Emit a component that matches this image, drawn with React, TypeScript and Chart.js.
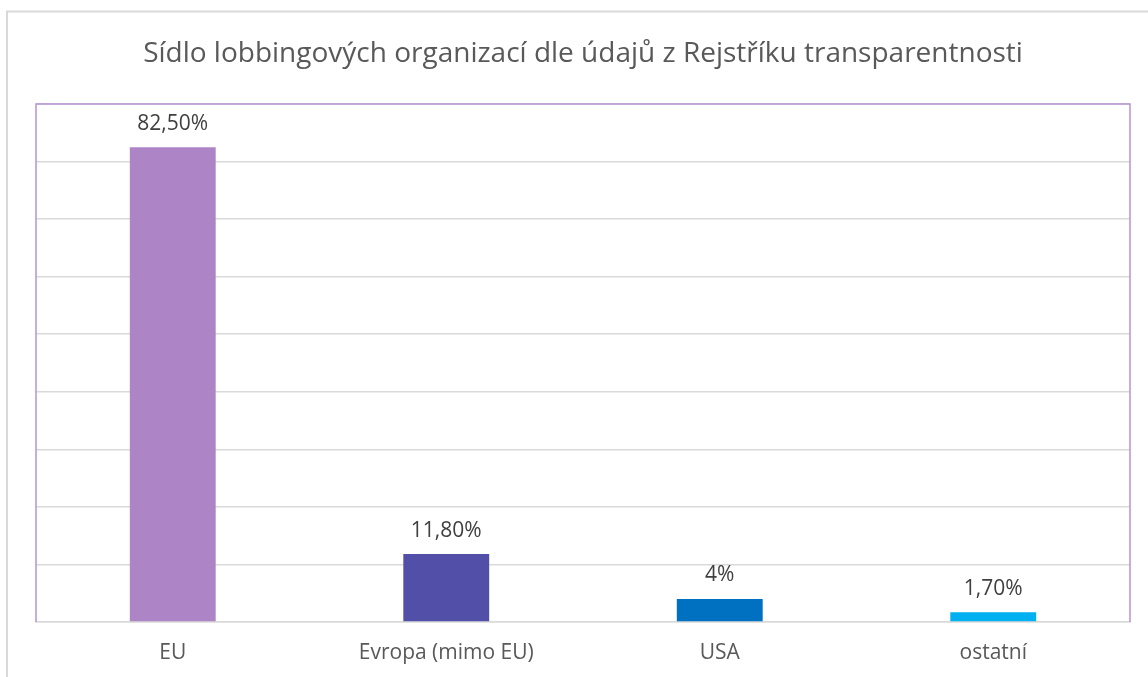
import React, { useEffect, useRef } from "react";
import { Chart, registerables } from "chart.js";

Chart.register(...registerables);

const TITLE = "Sídlo lobbingových organizací dle údajů z Rejstříku transparentnosti";
const categories = ["EU", "Evropa (mimo EU)", "USA", "ostatní"];
const values = [82.5, 11.8, 4, 1.7];
const valueLabels = ["82,50%", "11,80%", "4%", "1,70%"];
const barColors = ["#AD84C6", "#524FA8", "#0070C0", "#00B0F0"];
const FONT = "'Open Sans', sans-serif";

const framePlugin = {
  id: "frame",
  beforeDraw(chart: any) {
    const ctx = chart.ctx;
    ctx.save();
    ctx.fillStyle = "#ffffff";
    ctx.fillRect(0, 0, chart.width, chart.height);
    ctx.strokeStyle = "#D9D9D9";
    ctx.lineWidth = 2;
    ctx.beginPath();
    ctx.moveTo(7, chart.height);
    ctx.lineTo(7, 11.5);
    ctx.lineTo(chart.width, 11.5);
    ctx.stroke();
    ctx.restore();
  },
  afterDatasetsDraw(chart: any) {
    const ctx = chart.ctx;
    const a = chart.chartArea;
    ctx.save();
    ctx.strokeStyle = "#B794D4";
    ctx.lineWidth = 1.5;
    ctx.beginPath();
    ctx.moveTo(a.left, a.bottom);
    ctx.lineTo(a.left, a.top);
    ctx.lineTo(a.right, a.top);
    ctx.lineTo(a.right, a.bottom);
    ctx.stroke();
    // data labels
    const meta = chart.getDatasetMeta(0);
    ctx.fillStyle = "#404040";
    ctx.font = `21px ${FONT}`;
    ctx.textAlign = "center";
    ctx.textBaseline = "alphabetic";
    meta.data.forEach((el: any, i: number) => {
      ctx.fillText(valueLabels[i], el.x, el.y - 17.5);
    });
    ctx.restore();
  },
};

export default function App() {
  const ref = useRef<HTMLCanvasElement>(null);
  useEffect(() => {
    document.body.style.margin = "0";
    const chart = new Chart(ref.current!, {
      type: "bar",
      data: {
        labels: categories,
        datasets: [
          {
            data: values,
            backgroundColor: barColors,
            barPercentage: 0.314,
            categoryPercentage: 1,
          },
        ],
      },
      options: {
        animation: false,
        responsive: false,
        layout: { padding: { left: 36, right: 18, top: 0, bottom: 0 } },
        plugins: {
          legend: { display: false },
          tooltip: { enabled: false },
          title: {
            display: true,
            text: TITLE,
            color: "#595959",
            font: { family: FONT, size: 28, weight: "normal" as any, lineHeight: 1.2 },
            padding: { top: 37, bottom: 33.4 },
          },
        },
        scales: {
          x: {
            afterFit: (scale: any) => {
              scale.height = 55;
            },
            grid: { display: false, drawTicks: false },
            border: { display: true, color: "#D9D9D9", width: 1.5 },
            ticks: { color: "#595959", font: { family: FONT, size: 21 }, padding: 18 },
          },
          y: {
            min: 0,
            max: 90,
            ticks: { display: false, stepSize: 10 },
            grid: { color: "#D9D9D9", lineWidth: 1.5, drawTicks: false },
            border: { display: false },
          },
        },
      },
      plugins: [framePlugin],
    });
    return () => chart.destroy();
  }, []);
  return (
    <div style={{ position: "absolute", left: 0, top: 0, width: 1148, height: 677, overflow: "hidden" }}>
      <canvas ref={ref} width={1148} height={677} style={{ width: 1148, height: 677, display: "block" }} />
    </div>
  );
}
